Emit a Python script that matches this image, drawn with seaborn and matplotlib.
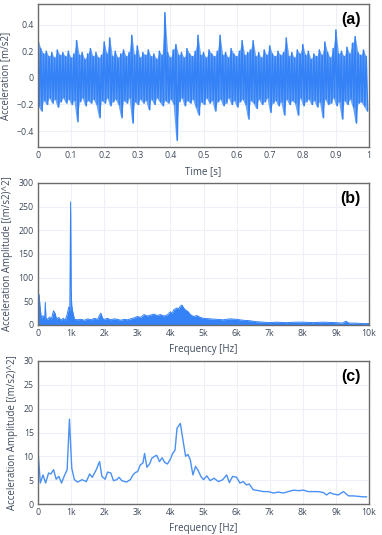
import numpy as np
import pandas as pd
import matplotlib
matplotlib.use("Agg")
import matplotlib.pyplot as plt
import seaborn as sns

# ---------------------------------------------------------------------
# Data
# ---------------------------------------------------------------------
# (a) time signal: positive / negative excursions, 120 samples each over 1 s
sig_up = [0.29, 0.22, 0.18, 0.20, 0.16, 0.19, 0.15, 0.21, 0.17, 0.19,
          0.16, 0.20, 0.15, 0.18, 0.28, 0.17, 0.19, 0.14, 0.18, 0.22,
          0.16, 0.19, 0.15, 0.17, 0.27, 0.18, 0.30, 0.16, 0.20, 0.15,
          0.18, 0.21, 0.16, 0.19, 0.32, 0.17, 0.24, 0.15, 0.19, 0.17,
          0.21, 0.16, 0.18, 0.14, 0.20, 0.17, 0.49, 0.19, 0.15, 0.21,
          0.25, 0.17, 0.19, 0.15, 0.22, 0.18, 0.16, 0.20, 0.32, 0.17,
          0.19, 0.15, 0.21, 0.18, 0.16, 0.20, 0.32, 0.17, 0.19, 0.15,
          0.22, 0.18, 0.16, 0.20, 0.28, 0.17, 0.19, 0.21, 0.28, 0.16,
          0.19, 0.15, 0.21, 0.17, 0.24, 0.18, 0.16, 0.20, 0.17, 0.19,
          0.30, 0.16, 0.19, 0.15, 0.21, 0.18, 0.25, 0.17, 0.20, 0.14,
          0.18, 0.16, 0.21, 0.17, 0.27, 0.19, 0.15, 0.22, 0.36, 0.18,
          0.20, 0.16, 0.23, 0.18, 0.26, 0.31, 0.19, 0.17, 0.21, 0.16]
sig_low = [-0.21, -0.25, -0.17, -0.20, -0.15, -0.19, -0.16, -0.22, -0.18, -0.15,
           -0.19, -0.16, -0.20, -0.17, -0.33, -0.18, -0.15, -0.21, -0.17, -0.19,
           -0.16, -0.20, -0.30, -0.17, -0.19, -0.15, -0.21, -0.18, -0.16, -0.20,
           -0.30, -0.17, -0.19, -0.15, -0.34, -0.18, -0.20, -0.16, -0.19, -0.17,
           -0.24, -0.16, -0.20, -0.15, -0.18, -0.21, -0.17, -0.19, -0.16, -0.20,
           -0.47, -0.18, -0.15, -0.21, -0.17, -0.19, -0.16, -0.22, -0.28, -0.18,
           -0.20, -0.15, -0.19, -0.17, -0.25, -0.18, -0.16, -0.21, -0.19, -0.15,
           -0.20, -0.17, -0.22, -0.18, -0.16, -0.20, -0.31, -0.17, -0.19, -0.23,
           -0.16, -0.20, -0.18, -0.15, -0.26, -0.19, -0.17, -0.21, -0.18, -0.28,
           -0.16, -0.20, -0.17, -0.19, -0.28, -0.15, -0.21, -0.18, -0.16, -0.20,
           -0.17, -0.22, -0.18, -0.30, -0.16, -0.20, -0.19, -0.15, -0.21, -0.18,
           -0.31, -0.17, -0.20, -0.16, -0.22, -0.34, -0.19, -0.18, -0.21, -0.25]

# (b) full spectrum, upper envelope
spec_freq = [0, 30, 60, 100, 150, 200, 220, 240, 300, 350, 400, 470, 520, 560,
             620, 700, 760, 820, 880, 930, 960, 985, 1000, 1020, 1050, 1100,
             1200, 1300, 1400, 1500, 1600, 1700, 1800, 1870, 1900, 1950, 2000,
             2100, 2200, 2300, 2400, 2500, 2600, 2700, 2800, 2900, 3000, 3100,
             3200, 3300, 3400, 3500, 3600, 3700, 3800, 3900, 4000, 4050, 4100,
             4200, 4250, 4300, 4350, 4400, 4450, 4500, 4550, 4600, 4700, 4800,
             4900, 5000, 5200, 5400, 5600, 5800, 6000, 6200, 6400, 6600, 6800,
             7000, 7200, 7500, 7800, 8000, 8300, 8600, 9000, 9200, 9300, 9400,
             9600, 9800, 10000]
spec_amp = [62, 65, 40, 14, 20, 12, 48, 14, 12, 17, 12, 30, 24, 12,
            16, 10, 14, 10, 22, 38, 30, 260, 75, 40, 28, 12,
            11, 12, 10, 13, 11, 14, 12, 22, 25, 14, 12,
            14, 11, 13, 12, 10, 12, 11, 13, 15, 18, 16,
            22, 19, 21, 23, 20, 22, 19, 21, 28, 24, 32,
            36, 34, 40, 42, 36, 32, 30, 27, 22, 18, 20,
            16, 14, 13, 12, 11, 13, 12, 10, 9, 7, 6,
            5, 6, 5, 6, 6, 5, 6, 5, 4, 8, 4,
            4, 3, 3]

# (c) averaged spectrum
avg_freq = [0, 70, 150, 230, 320, 390, 470, 550, 630, 710, 790, 880, 950,
            1020, 1100, 1200, 1330, 1460, 1560, 1640, 1760, 1860, 1930, 2030,
            2100, 2200, 2280, 2380, 2450, 2530, 2670, 2790, 2870, 2940, 3010,
            3090, 3170, 3220, 3290, 3370, 3440, 3520, 3590, 3670, 3750, 3830,
            3910, 3990, 4070, 4140, 4200, 4300, 4380, 4460, 4530, 4600, 4680,
            4760, 4840, 4920, 5000, 5100, 5200, 5320, 5450, 5580, 5700, 5780,
            5880, 6000, 6100, 6200, 6300, 6380, 6500, 6660, 6810, 6960, 7110,
            7260, 7410, 7560, 7720, 7870, 8020, 8170, 8320, 8470, 8620, 8720,
            8820, 8920, 9070, 9230, 9380, 9530, 9680, 9830, 9930]
avg_amp = [11.1, 4.4, 6.1, 4.4, 6.5, 6.3, 7.2, 5.2, 5.8, 4.4, 5.8, 7.2, 17.8,
           7.5, 5.1, 4.6, 5.1, 4.7, 6.3, 5.6, 7.2, 8.9, 5.8, 5.2,
           6.7, 6.5, 4.9, 5.1, 5.6, 4.9, 4.6, 5.1, 6.1, 6.6, 6.8,
           8.2, 8.6, 10.6, 7.7, 8.4, 9.6, 10.0, 10.2, 8.9, 9.7, 8.7,
           8.4, 9.3, 10.6, 11.3, 15.9, 16.9, 13.4, 10.0, 10.4, 9.3, 6.1,
           7.9, 7.0, 5.8, 5.1, 5.9, 4.9, 5.4, 4.7, 5.1, 6.1, 4.5,
           5.8, 5.6, 4.4, 4.7, 4.0, 4.2, 3.0, 2.8, 2.6, 2.6, 2.3,
           2.5, 2.3, 2.6, 2.9, 2.8, 2.9, 2.6, 2.6, 2.6, 2.4, 1.9,
           2.4, 2.1, 1.9, 2.6, 1.7, 1.7, 1.6, 1.5, 1.5]

time_ticks = [0, 0.1, 0.2, 0.3, 0.4, 0.5, 0.6, 0.7, 0.8, 0.9, 1]
time_labels = ["0", "0.1", "0.2", "0.3", "0.4", "0.5", "0.6", "0.7", "0.8", "0.9", "1"]
freq_ticks = [0, 1000, 2000, 3000, 4000, 5000, 6000, 7000, 8000, 9000, 10000]
freq_labels = ["0", "1k", "2k", "3k", "4k", "5k", "6k", "7k", "8k", "9k", "10k"]

# interleave positive and negative excursions into one trace
n = len(sig_up)
t_up = np.arange(n) / n
t = np.empty(2 * n)
t[0::2] = t_up
t[1::2] = t_up + 0.5 / n
acc = np.empty(2 * n)
acc[0::2] = sig_up
acc[1::2] = sig_low
df_sig = pd.DataFrame({"t": t, "acc": acc})
df_spec = pd.DataFrame({"f": spec_freq, "a": spec_amp})
df_avg = pd.DataFrame({"f": avg_freq, "a": avg_amp})

# ---------------------------------------------------------------------
# Styling
# ---------------------------------------------------------------------
sns.set_theme(style="white")
plt.rcParams["font.family"] = ["Open Sans", "DejaVu Sans"]
TXT = "#3f4a5c"
BLUE = "#3482f6"
GRID = "#edf1f7"

fig = plt.figure(figsize=(3.82, 5.35), dpi=100)
W, H = 382, 535


def make_ax(top, bottom):
    return fig.add_axes([38 / W, 1 - bottom / H, 331 / W, (bottom - top) / H])


def style(ax, xlabel, ylabel, tag):
    ax.grid(True, color=GRID, linewidth=0.8)
    ax.set_axisbelow(True)
    for sp in ax.spines.values():
        sp.set_color("#6b6b6b")
        sp.set_linewidth(1.0)
    ax.tick_params(axis="both", labelsize=6.3, colors=TXT, length=0, pad=3)
    ax.set_xlabel(xlabel, fontsize=7, color=TXT, labelpad=4)
    ax.set_ylabel(ylabel, fontsize=7, color=TXT, labelpad=4)
    ax.text(0.975, 0.89, tag, transform=ax.transAxes, ha="right", va="center",
            fontsize=11.5, fontweight="bold", color="black",
            family=["Liberation Sans", "DejaVu Sans"])


# (a) time signal: light envelope band + dense trace
ax1 = make_ax(4, 147)
ax1.fill_between(t_up, sig_low, sig_up, color="#6ea6f7", linewidth=0)
sns.lineplot(data=df_sig, x="t", y="acc", ax=ax1, color=BLUE, linewidth=1.1,
             estimator=None, sort=False)
ax1.set_xlim(0, 1)
ax1.set_ylim(-0.52, 0.555)
ax1.set_xticks(time_ticks)
ax1.set_xticklabels(time_labels)
ax1.set_yticks([-0.4, -0.2, 0, 0.2, 0.4])
ax1.set_yticklabels(["\u22120.4", "\u22120.2", "0", "0.2", "0.4"])
style(ax1, "Time [s]", "Acceleration [m/s2]", "(a)")

# (b) full spectrum
ax2 = make_ax(183, 325)
ax2.fill_between(df_spec["f"], 0, df_spec["a"], color=BLUE, linewidth=0)
sns.lineplot(data=df_spec, x="f", y="a", ax=ax2, color=BLUE, linewidth=0.7,
             estimator=None)
ax2.set_xlim(0, 10000)
ax2.set_ylim(0, 300)
ax2.set_xticks(freq_ticks)
ax2.set_xticklabels(freq_labels)
ax2.set_yticks([0, 50, 100, 150, 200, 250, 300])
style(ax2, "Frequency [Hz]", "Acceleration Amplitude [(m/s2)^2]", "(b)")

# (c) averaged spectrum
ax3 = make_ax(361, 504)
sns.lineplot(data=df_avg, x="f", y="a", ax=ax3, color="#4a90f5", linewidth=1.0,
             estimator=None)
ax3.set_xlim(0, 10000)
ax3.set_ylim(0, 30)
ax3.set_xticks(freq_ticks)
ax3.set_xticklabels(freq_labels)
ax3.set_yticks([0, 5, 10, 15, 20, 25, 30])
style(ax3, "Frequency [Hz]", "Acceleration Amplitude [(m/s2)^2]", "(c)")

fig.savefig("out.png", dpi=100)
